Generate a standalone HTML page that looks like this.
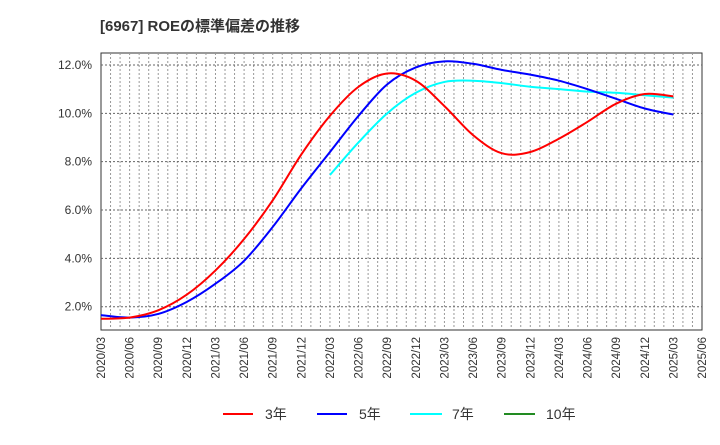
<!DOCTYPE html>
<html><head><meta charset="utf-8"><style>
body{margin:0;background:#fff;}
svg{font-family:"Liberation Sans","Noto Sans CJK JP",sans-serif;}
</style></head><body>
<svg id="c" width="720" height="440" viewBox="0 0 720 440">
<text x="100" y="31" font-size="15" font-weight="bold" fill="#333">[6967]  ROEの標準偏差の推移</text>
<rect x="101" y="53" width="601" height="277" fill="#fff" stroke="#333" stroke-width="1"/>
<g id="grid"></g><g id="yt"></g><g id="xt"></g><g id="series"></g>
<g>
<line x1="223" y1="414" x2="253" y2="414" stroke="#ff0000" stroke-width="2"/>
<text x="265" y="419" font-size="14" fill="#333">3年</text>
<line x1="317" y1="414" x2="347" y2="414" stroke="#0000ff" stroke-width="2"/>
<text x="359" y="419" font-size="14" fill="#333">5年</text>
<line x1="410" y1="414" x2="442" y2="414" stroke="#00ffff" stroke-width="2"/>
<text x="452" y="419" font-size="14" fill="#333">7年</text>
<line x1="504" y1="414" x2="535" y2="414" stroke="#228b22" stroke-width="2"/>
<text x="546" y="419" font-size="14" fill="#333">10年</text>
</g>
</svg>
<script>
const xLabels=["2020/03","2020/06","2020/09","2020/12","2021/03","2021/06","2021/09","2021/12","2022/03","2022/06","2022/09","2022/12","2023/03","2023/06","2023/09","2023/12","2024/03","2024/06","2024/09","2024/12","2025/03","2025/06"];
const yTicks=[2,4,6,8,10,12];
const s3=[1.5,1.55,1.85,2.5,3.5,4.8,6.4,8.3,9.9,11.1,11.65,11.35,10.3,9.1,8.35,8.4,8.95,9.65,10.4,10.8,10.7];
const s5=[1.65,1.55,1.7,2.2,2.95,3.9,5.3,6.9,8.4,9.9,11.2,11.9,12.15,12.05,11.8,11.6,11.35,11.0,10.6,10.2,9.95];
const s7=[7.45,8.8,10.0,10.85,11.3,11.35,11.25,11.1,11.0,10.9,10.85,10.75,10.65];
const s7start=8;
const NS="http://www.w3.org/2000/svg";
const L=101,R=702,T=53,B=330;
const xq=i=>L+(R-L)*i/21;
const yv=v=>306.7-(v-2)*24.17;
function mk(t,a,p){const e=document.createElementNS(NS,t);for(const k in a)e.setAttribute(k,a[k]);p.appendChild(e);return e;}
const grid=document.getElementById('grid');
for(let m=1;m<63;m++){const x=L+(R-L)*m/63;
const l=mk('line',{x1:x,x2:x,y1:T,y2:B,stroke:'#999','stroke-width':1,'stroke-dasharray':'2,2'},grid);

}
const yt=document.getElementById('yt');
yTicks.forEach(v=>{const y=yv(v);
const l=mk('line',{x1:L,x2:R,y1:y,y2:y,stroke:'#666','stroke-width':1,'stroke-dasharray':'2,2'},grid);


const t=mk('text',{x:L-9,y:y+4,'text-anchor':'end','font-size':12,fill:'#333'},yt);t.textContent=v.toFixed(1)+'%';

});
const xt=document.getElementById('xt');
xLabels.forEach((s,i)=>{const x=xq(i);
const t=mk('text',{x:0,y:0,transform:`translate(${x+4},337) rotate(-90)`,'text-anchor':'end','font-size':11.5,fill:'#333'},xt);t.textContent=s;

});
function path(vals,start){const p=vals.map((v,i)=>[xq(i+start),yv(v)]);let d='M'+p[0][0]+','+p[0][1];
for(let i=0;i<p.length-1;i++){const p0=p[i-1]||p[i],p1=p[i],p2=p[i+1],p3=p[i+2]||p2;
d+=` C${p1[0]+(p2[0]-p0[0])/6},${p1[1]+(p2[1]-p0[1])/6} ${p2[0]-(p3[0]-p1[0])/6},${p2[1]-(p3[1]-p1[1])/6} ${p2[0]},${p2[1]}`;}return d;}
const sg=document.getElementById('series');
[[s7,s7start,'#00ffff','line-7y'],[s5,0,'#0000ff','line-5y'],[s3,0,'#ff0000','line-3y']].forEach(([v,st,c,n])=>{
const e=mk('path',{d:path(v,st),fill:'none',stroke:c,'stroke-width':2},sg);

});
</script>
</body></html>
